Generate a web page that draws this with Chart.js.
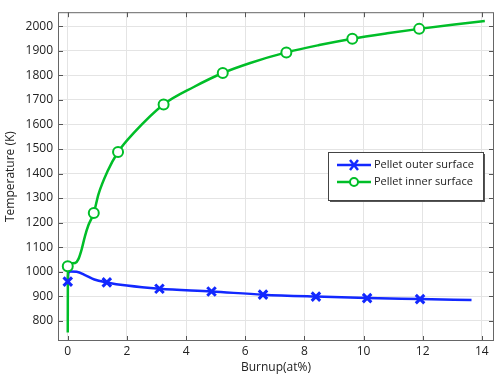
<!DOCTYPE html>
<html lang="en">
<head>
  <meta charset="UTF-8">
  <title>Pellet surface temperature vs burnup</title>
  <script src="https://cdn.jsdelivr.net/npm/chart.js"></script>
  <style>
    body { margin: 0; background: #fff; }
    #wrap { width: 498px; height: 375px; }
  </style>
</head>
<body>
  <div id="wrap"><canvas id="chartCanvas" width="498" height="375"></canvas></div>

  <script>
    // curve values
    const outerX = [0, 0.02, 0.1, 0.3, 0.6, 0.9, 1.32, 2.0, 3.1, 4.86, 6.6, 8.39, 10.12, 11.91, 13.65];
    const outerY = [959, 995, 1000, 999, 985, 968, 956, 943, 930, 919, 906, 898, 892, 888, 884];
    const innerX = [0, 0.005, 0.05, 0.25, 0.36, 0.47, 0.58, 0.70, 0.88, 1.04, 1.34, 1.70, 2.24, 3.24, 4.26, 5.24, 6.17, 7.39, 8.5, 9.62, 10.8, 11.88, 13.0, 14.1];
    const innerY = [752, 1022, 1033, 1035, 1051, 1091, 1144, 1190, 1239, 1316, 1408, 1488, 1567, 1682, 1753, 1810, 1851, 1894, 1924, 1950, 1972, 1990, 2007, 2022];

    // marker positions
    const outerMarkX = [0, 1.32, 3.1, 4.86, 6.6, 8.39, 10.12, 11.91];
    const outerMarkY = [959, 956, 930, 919, 906, 898, 892, 888];
    const innerMarkX = [0, 0.88, 1.70, 3.24, 5.24, 7.39, 9.62, 11.88];
    const innerMarkY = [1022, 1239, 1488, 1682, 1810, 1894, 1950, 1990];

    const xTicks = [0, 2, 4, 6, 8, 10, 12, 14];
    const yTicks = [800, 900, 1000, 1100, 1200, 1300, 1400, 1500, 1600, 1700, 1800, 1900, 2000];
    const seriesNames = ["Pellet outer surface", "Pellet inner surface"];

    const BLUE = "rgb(18,40,255)";
    const GREEN = "rgb(0,190,40)";
    const FONT = "'Open Sans', 'DejaVu Sans', sans-serif";

    const pts = (xs, ys) => xs.map((x, i) => ({ x: x, y: ys[i] }));

    // inward tick marks on all four sides + legend box inside the plot
    const frameExtras = {
      id: "frameExtras",
      afterDraw(chart) {
        const c = chart.ctx, a = chart.chartArea;
        const xs = chart.scales.x, ys = chart.scales.y;
        c.save();
        c.strokeStyle = "#555";
        c.lineWidth = 1;
        c.beginPath();
        xTicks.forEach(v => {
          const px = Math.round(xs.getPixelForValue(v)) + 0.5;
          c.moveTo(px, a.bottom); c.lineTo(px, a.bottom - 5);
          c.moveTo(px, a.top); c.lineTo(px, a.top + 5);
        });
        yTicks.forEach(v => {
          const py = Math.round(ys.getPixelForValue(v)) + 0.5;
          c.moveTo(a.left, py); c.lineTo(a.left + 5, py);
          c.moveTo(a.right, py); c.lineTo(a.right - 5, py);
        });
        c.stroke();
        c.strokeStyle = "#666";
        c.strokeRect(a.left + 0.5, a.top + 0.5, a.right - a.left - 1, a.bottom - a.top - 1);

        // legend
        const bx = 328, by = 152, bw = 155, bh = 48;
        c.fillStyle = "#555";
        c.fillRect(bx + 2, by + 2, bw, bh);
        c.fillStyle = "#fff";
        c.fillRect(bx, by, bw, bh);
        c.strokeStyle = "#444";
        c.lineWidth = 1;
        c.strokeRect(bx + 0.5, by + 0.5, bw, bh);
        const rows = [
          { name: seriesNames[0], color: BLUE, y: by + 13, marker: "x" },
          { name: seriesNames[1], color: GREEN, y: by + 30, marker: "o" }
        ];
        rows.forEach(r => {
          c.strokeStyle = r.color;
          c.lineWidth = 2.5;
          c.beginPath();
          c.moveTo(bx + 9, r.y); c.lineTo(bx + 43, r.y);
          c.stroke();
          const mx = bx + 26;
          c.beginPath();
          if (r.marker === "x") {
            c.moveTo(mx - 4, r.y - 5); c.lineTo(mx + 4, r.y + 5);
            c.moveTo(mx + 4, r.y - 5); c.lineTo(mx - 4, r.y + 5);
            c.stroke();
          } else {
            c.lineWidth = 2;
            c.arc(mx, r.y, 4, 0, Math.PI * 2);
            c.fillStyle = "#fff";
            c.fill();
            c.stroke();
          }
          c.fillStyle = "#222";
          c.font = "11px " + FONT;
          c.textBaseline = "middle";
          c.textAlign = "left";
          c.fillText(r.name, bx + 46, r.y);
        });
        c.restore();
      }
    };

    const ctx = document.getElementById("chartCanvas").getContext("2d");
    new Chart(ctx, {
      type: "scatter",
      data: {
        datasets: [
          {
            label: seriesNames[0], data: pts(outerX, outerY), showLine: true,
            borderColor: BLUE, borderWidth: 2.5, pointRadius: 0, cubicInterpolationMode: "monotone", order: 2
          },
          {
            label: seriesNames[1], data: pts(innerX, innerY), showLine: true,
            borderColor: GREEN, borderWidth: 2.5, pointRadius: 0, cubicInterpolationMode: "monotone", order: 1
          },
          {
            label: seriesNames[0] + " markers", data: pts(outerMarkX, outerMarkY), showLine: false,
            pointStyle: "crossRot", pointRadius: 6, borderColor: BLUE, borderWidth: 3, order: 0
          },
          {
            label: seriesNames[1] + " markers", data: pts(innerMarkX, innerMarkY), showLine: false,
            pointStyle: "circle", pointRadius: 5, borderColor: GREEN, backgroundColor: "#fff", borderWidth: 2, order: 0
          }
        ]
      },
      options: {
        responsive: false,
        animation: false,
        layout: { autoPadding: false, padding: { top: 3, right: 4, left: 0, bottom: 0 } },
        plugins: { legend: { display: false }, tooltip: { enabled: false } },
        scales: {
          x: {
            type: "linear", min: -0.33, max: 14.41,
            afterBuildTicks: s => { s.ticks = xTicks.map(v => ({ value: v })); },
            afterFit: s => { s.height = 34; },
            grid: { color: "#e4e4e4", drawTicks: false },
            border: { display: false },
            ticks: { color: "#222", font: { family: FONT, size: 12 }, padding: 3, maxRotation: 0, callback: v => String(v) },
            title: { display: true, text: "Burnup(at%)", color: "#222", font: { family: FONT, size: 12 }, padding: { top: 0, bottom: 0 } }
          },
          y: {
            type: "linear", min: 717, max: 2058,
            afterBuildTicks: s => { s.ticks = yTicks.map(v => ({ value: v })); },
            afterFit: s => { s.width = 58; },
            grid: { color: "#e4e4e4", drawTicks: false },
            border: { display: false },
            ticks: { color: "#222", font: { family: FONT, size: 12 }, padding: 5, callback: v => String(v) },
            title: { display: true, text: "Temperature (K)", color: "#222", font: { family: FONT, size: 12 }, padding: { top: 3, bottom: 0 } }
          }
        }
      },
      plugins: [frameExtras]
    });
  </script>
</body>
</html>
